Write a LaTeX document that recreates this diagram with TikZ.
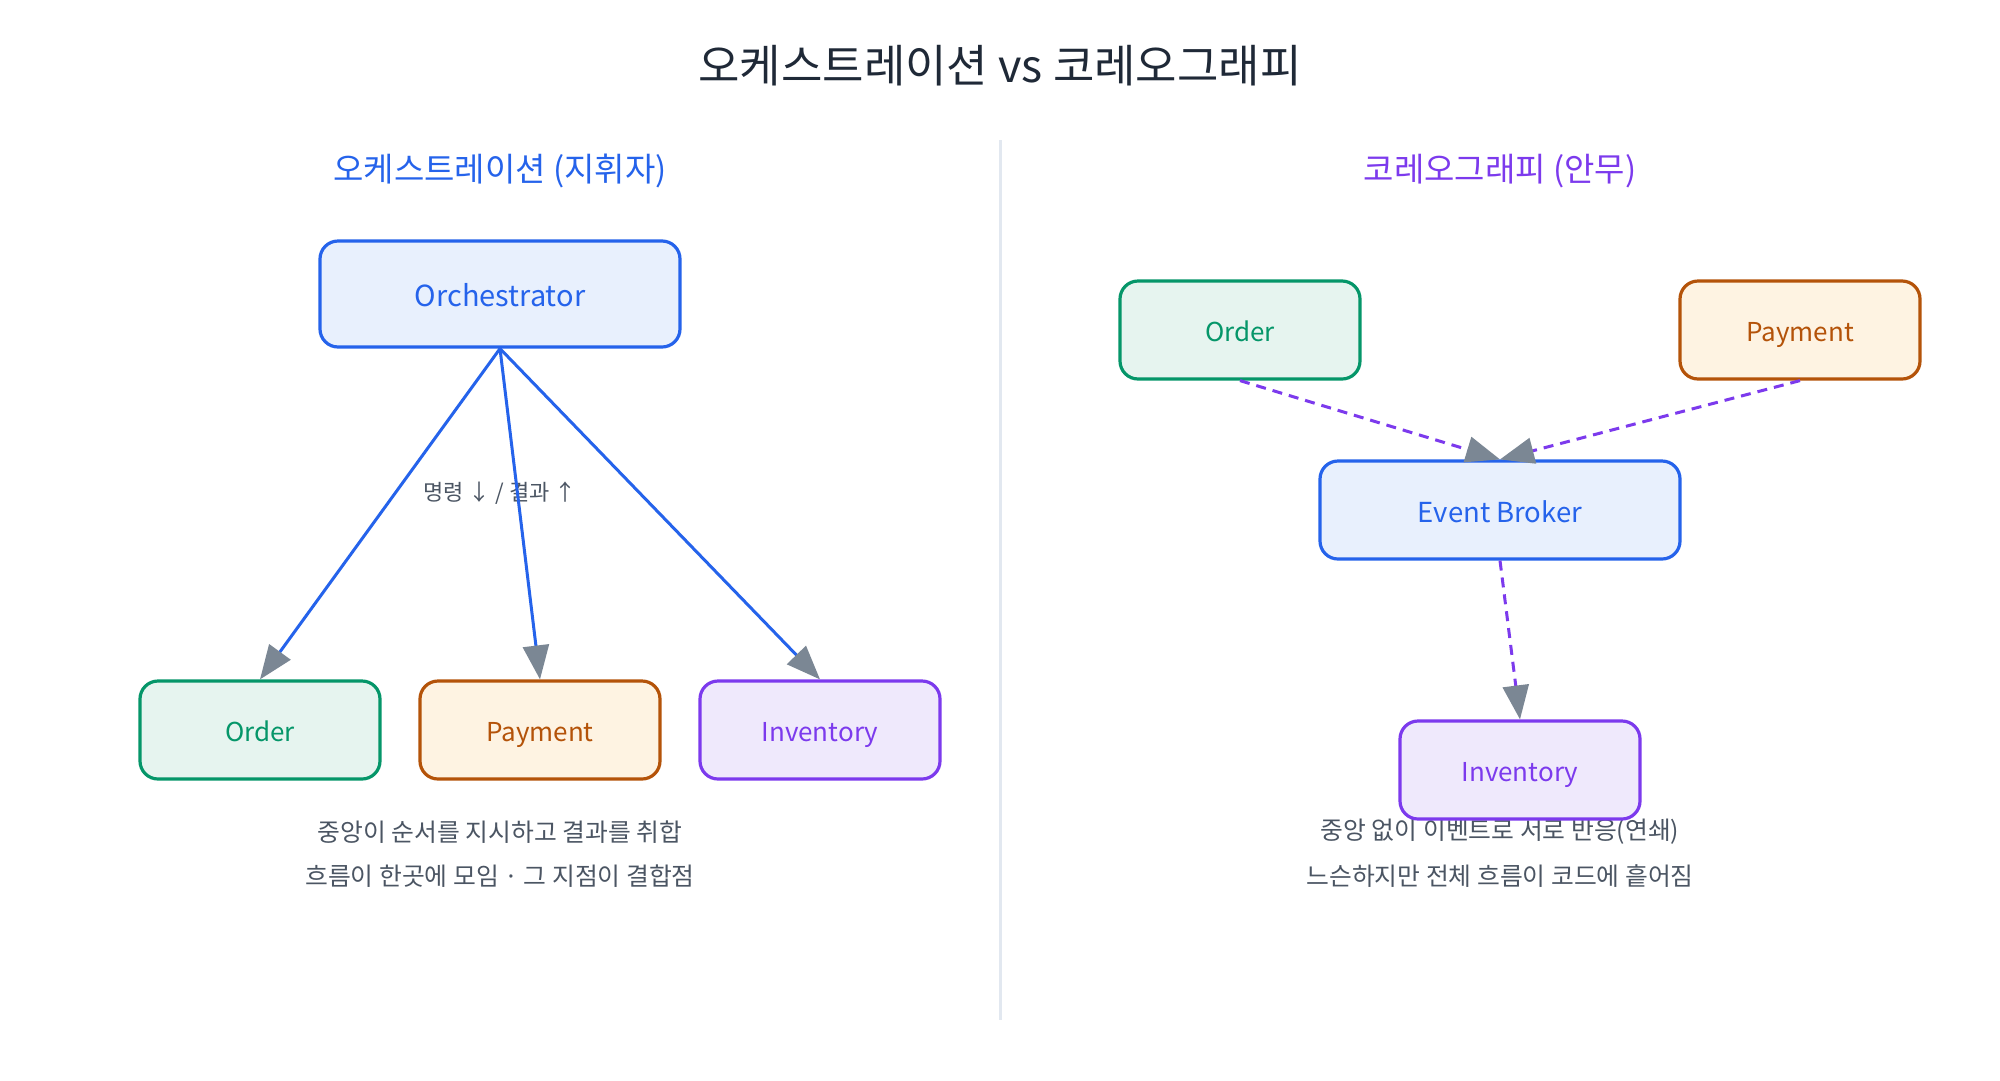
\documentclass[tikz,border=0pt]{standalone}
\usepackage{fontspec}
\setmainfont{Noto Sans CJK KR}
\usetikzlibrary{arrows.meta}
\definecolor{titlec}{HTML}{1F2937}
\definecolor{capc}{HTML}{4B5563}
\definecolor{bluec}{HTML}{2563EB}
\definecolor{bluef}{HTML}{E8F0FD}
\definecolor{greenc}{HTML}{059669}
\definecolor{greenf}{HTML}{E6F4EF}
\definecolor{orangec}{HTML}{B45309}
\definecolor{orangef}{HTML}{FEF3E2}
\definecolor{purplec}{HTML}{7C3AED}
\definecolor{purplef}{HTML}{EFE9FC}
\definecolor{tipc}{HTML}{7B8794}
\definecolor{divc}{HTML}{E2E8F0}
\tikzset{
  box/.style={draw, line width=3.2pt, rounded corners=18pt, inner sep=0pt, align=center, text depth=0pt},
  bigbox/.style={box, minimum width=360pt, minimum height=106pt, text height=24pt, font=\fontsize{29}{32}\selectfont},
  smallbox/.style={box, minimum width=240pt, minimum height=98pt, text height=23pt, font=\fontsize{26}{30}\selectfont},
  bluebox/.style={draw=bluec, fill=bluef, text=bluec},
  greenbox/.style={draw=greenc, fill=greenf, text=greenc},
  orangebox/.style={draw=orangec, fill=orangef, text=orangec},
  purplebox/.style={draw=purplec, fill=purplef, text=purplec},
  cmdarrow/.style={draw=bluec, line width=3pt, -{Triangle[length=34pt,width=26pt,color=tipc]}},
  evtarrow/.style={draw=purplec, line width=3pt, dash pattern=on 10pt off 7pt, -{Triangle[length=34pt,width=26pt,color=tipc]}},
  captext/.style={text=capc, font=\fontsize{24.8}{28}\selectfont, inner sep=0pt},
  subtitle/.style={font=\fontsize{33}{36}\selectfont, inner sep=0pt}
}
\begin{document}
\begin{tikzpicture}[x=1pt,y=-1pt]
\useasboundingbox[fill=white] (0,0) rectangle (2000,1080);
% title
\node[text=titlec, font=\fontsize{45}{50}\selectfont, inner sep=0pt] (title) at (1000,66) {오케스트레이션 vs 코레오그래피};
% divider
\coordinate (dtop) at (1000,140);
\coordinate (dbot) at (1000,1020);
\draw[divc, line width=3pt] (dtop) -- (dbot);
% subtitles
\node[subtitle, text=bluec] (lsub) at (500,171) {오케스트레이션 (지휘자)};
\node[subtitle, text=purplec] (rsub) at (1500,171) {코레오그래피 (안무)};
% left: label and captions
\node[captext, font=\fontsize{22}{25}\selectfont] (lbl) at (500,493) {명령 ↓ / 결과 ↑};
\node[captext] (lc1) at (500,832) {중앙이 순서를 지시하고 결과를 취합};
\node[captext] (lc2) at (500,876) {흐름이 한곳에 모임 · 그 지점이 결합점};
% right captions
\node[captext] (rc1) at (1500,832) {중앙 없이 이벤트로 서로 반응(연쇄)};
\node[captext] (rc2) at (1500,876) {느슨하지만 전체 흐름이 코드에 흩어짐};
% left nodes
\node[bigbox, bluebox] (orch) at (500,294) {Orchestrator};
\node[smallbox, greenbox] (lorder) at (260,730) {Order};
\node[smallbox, orangebox] (lpay) at (540,730) {Payment};
\node[smallbox, purplebox] (linv) at (820,730) {Inventory};
% right nodes
\node[smallbox, greenbox] (rorder) at (1240,330) {Order};
\node[smallbox, orangebox] (rpay) at (1800,330) {Payment};
\node[bigbox, bluebox, minimum height=98pt, text height=24pt, font=\fontsize{27.5}{30}\selectfont] (broker) at (1500,510) {Event Broker};
\node[smallbox, purplebox] (rinv) at (1520,770) {Inventory};
% left arrows
\draw[cmdarrow] (orch.south) -- (lorder.north);
\draw[cmdarrow] (orch.south) -- (lpay.north);
\draw[cmdarrow] (orch.south) -- (linv.north);
% right arrows
\draw[evtarrow] (rorder.south) -- (broker.north);
\draw[evtarrow] (rpay.south) -- (broker.north);
\draw[evtarrow] (broker.south) -- (rinv.north);
\end{tikzpicture}
\end{document}
